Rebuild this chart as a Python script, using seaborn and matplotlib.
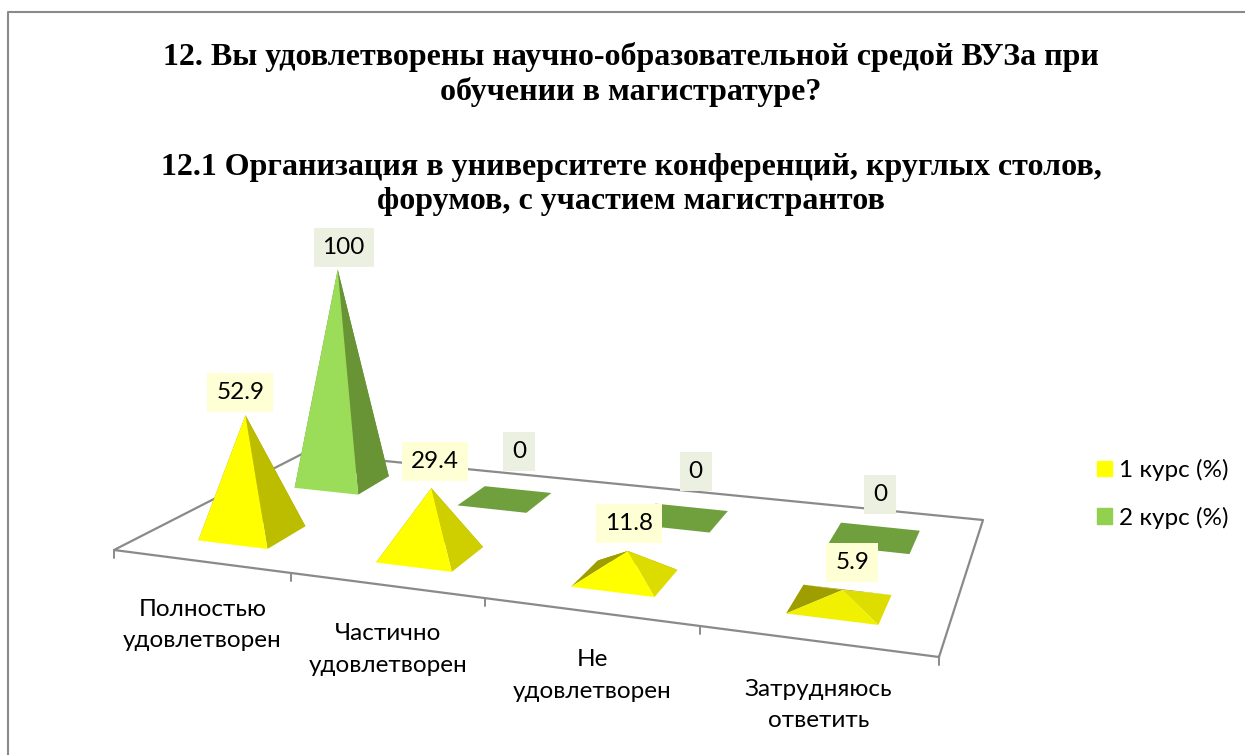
import numpy as np
import matplotlib
matplotlib.use("Agg")
import matplotlib.pyplot as plt
import seaborn as sns
from matplotlib.patches import Patch

TITLE_LINES = ["12. Вы удовлетворены научно-образовательной средой ВУЗа при",
               "обучении в магистратуре?",
               "12.1 Организация в университете конференций, круглых столов,",
               "форумов, с участием магистрантов"]
CATEGORIES = ["Полностью\nудовлетворен", "Частично\nудовлетворен",
              "Не\nудовлетворен", "Затрудняюсь\nответить"]
SERIES_NAMES = ["1 курс (%)", "2 курс (%)"]
COURSE_1 = [52.9, 29.4, 11.8, 5.9]
COURSE_2 = [100, 0, 0, 0]

# label centre relative to the top of the pyramid, in pixels
OFFSETS_1 = [(-5, -23), (4, -27), (1, -27), (10, -28)]
OFFSETS_2 = [(6, -22), (14, -48), (14, -46), (6, -43)]
TITLE_POS = [(631, 57), (631, 92), (631, 168), (631, 202)]

sns.set_theme(style="white")
plt.rcParams["font.family"] = ["Lato", "DejaVu Sans"]
YELLOW, GREEN = sns.color_palette(["#ffff00", "#92d050"])
GREEN_LIT, GREEN_DARK, GREEN_FLAT = "#9bdd58", "#689436", "#70a03e"
GRID = "#8a8a8a"
TEXT_SIZE = 17.5

# floor of the chart as seen on the page: (category, depth) -> pixels
FLOOR_DATA = np.array([(0, 0), (4, 0), (4, 1), (0, 1)], float)
FLOOR_PX = np.array([(114, 550), (939, 657), (983, 520), (304, 453)], float)
Z_COLUMN = (-0.37, -2.69, -0.00094)
BAND_X = 0.2
BAND_SHIFT = 0.015
BAND_Y = [(0.14, 0.34), (0.65, 0.85)]


def floor_matrix():
    rows, rhs = [], []
    for (x, y), (u, v) in zip(FLOOR_DATA, FLOOR_PX):
        rows.append([x, y, 1, 0, 0, 0, -u * x, -u * y])
        rows.append([0, 0, 0, x, y, 1, -v * x, -v * y])
        rhs += [u, v]
    h = np.linalg.solve(np.array(rows), np.array(rhs))
    return np.append(h, 1).reshape(3, 3)


H = floor_matrix()


def project(x, y, z=0):
    p = H @ np.array([x, y, 1.0]) + np.array(Z_COLUMN) * z
    return p[0] / p[2], p[1] / p[2]


def shade(colour, k):
    return tuple(c * k for c in colour)


def draw_pyramid(ax, cat, series, value):
    mid = cat + 0.5 + BAND_SHIFT
    x0, x1 = mid - BAND_X, mid + BAND_X
    y0, y1 = BAND_Y[series]
    fl, fr = project(x0, y0), project(x1, y0)
    br, bl = project(x1, y1), project(x0, y1)
    top = project(mid, (y0 + y1) / 2, value)

    if value == 0:
        ax.fill(*zip(fl, fr, br, bl), color=GREEN_FLAT, lw=0, zorder=3)
        return top
    if series == 0:
        left_c = shade(YELLOW, 0.62)
        right_c = shade(YELLOW, min(0.865, 0.90 - 0.3 * value / 100))
        front_c = shade(YELLOW, min(1, 0.85 + value / 65))
    else:
        left_c, right_c, front_c = GREEN_DARK, GREEN_DARK, GREEN_LIT
    for pts, col in [((bl, br, top), left_c), ((bl, fl, top), left_c),
                     ((fr, br, top), right_c), ((fl, fr, top), front_c)]:
        ax.fill(*zip(*pts), color=col, lw=0, zorder=3)
    return top


def value_label(ax, top, offset, value, face):
    ax.text(top[0] + offset[0], top[1] + offset[1], f"{value:g}",
            ha="center", va="center", fontsize=TEXT_SIZE, color="black", zorder=6,
            bbox=dict(facecolor=face, edgecolor="none", boxstyle="square,pad=0.37"))


fig = plt.figure(figsize=(12.45, 7.55), dpi=100)
ax = fig.add_axes([0, 0, 1, 1])
ax.set_xlim(0, 1245)
ax.set_ylim(755, 0)
ax.axis("off")

# chart border, only the left and top sides are in the crop
ax.plot([8, 8, 1245], [755, 12, 12], color=GRID, lw=1.5, zorder=1)

ax.fill(*FLOOR_PX.T, color="white", lw=0, zorder=1)
ax.plot(*FLOOR_PX[[1, 2, 3, 0, 1]].T, color=GRID, lw=1.6, zorder=2)
for i in range(len(CATEGORIES) + 1):
    u, v = project(i, 0)
    ax.plot([u, u], [v, v + 8], color=GRID, lw=1.4, zorder=2)

tops = {}
for i, value in enumerate(COURSE_2):
    tops[1, i] = draw_pyramid(ax, i, 1, value)
for i, value in enumerate(COURSE_1):
    tops[0, i] = draw_pyramid(ax, i, 0, value)

for i, value in enumerate(COURSE_1):
    value_label(ax, tops[0, i], OFFSETS_1[i], value, "#ffffd5")
for i, value in enumerate(COURSE_2):
    value_label(ax, tops[1, i], OFFSETS_2[i], value, "#ebf0e0")

for i, name in enumerate(CATEGORIES):
    u, v = project(i + 0.5, 0)
    ax.text(u + 2, v + 64, name, ha="center", va="center", fontsize=TEXT_SIZE,
            color="black", linespacing=1.62)

for line, (u, v) in zip(TITLE_LINES, TITLE_POS):
    ax.text(u, v, line, ha="center", va="center", fontsize=23, fontweight="bold",
            family="Liberation Serif", color="black")

handles = [Patch(color=YELLOW), Patch(color=GREEN)]
ax.legend(handles, SERIES_NAMES, loc="upper left", bbox_to_anchor=(1075 / 1245, 1 - 437 / 755),
          frameon=False, fontsize=TEXT_SIZE, handlelength=0.62, handleheight=0.62,
          handletextpad=0.3, labelspacing=1.05, labelcolor="black")

fig.savefig("out.png", dpi=100)
